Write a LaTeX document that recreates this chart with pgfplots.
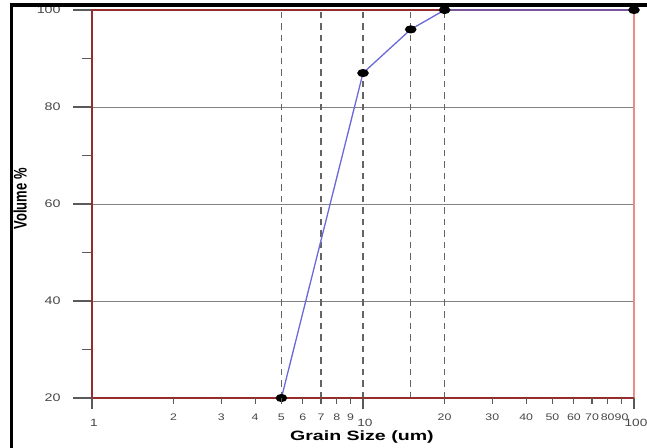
\documentclass[border=0pt]{standalone}
\usepackage{fontspec}
\setmainfont{Liberation Sans}
\usepackage{pgfplots}
\pgfplotsset{compat=1.18}
\definecolor{frameR}{RGB}{150,45,45}
\definecolor{frameL}{RGB}{232,140,140}
\definecolor{gridG}{RGB}{130,130,130}
\definecolor{dashG}{RGB}{100,100,100}
\definecolor{tickG}{RGB}{90,90,90}
\definecolor{labG}{RGB}{70,70,70}
\definecolor{lineB}{RGB}{105,105,215}
\begin{document}
\begin{tikzpicture}[x=1pt,y=1pt]
\useasboundingbox (0,0) rectangle (647,447);
\clip (0,0) rectangle (647,447);
% axis with the y ticks, the frame and the data
\begin{axis}[
  at={(92pt,49pt)}, anchor=south west,
  scale only axis, width=542pt, height=388pt,
  xmode=log, xmin=1, xmax=100, ymin=20, ymax=100,
  axis line style={draw=none},
  tick align=outside, ytick pos=left,
  xtick=\empty, xminorticks=false,
  ytick={20,40,60,80,100}, minor ytick={30,50,70,90},
  major tick length=19pt, minor tick length=10pt,
  tick style={draw=tickG, line width=1.1pt},
  /pgf/number format/assume math mode=true,
  yticklabel style={font=\fontsize{11}{12}\selectfont, text=labG, xscale=1.3, anchor=east, xshift=-6pt},
  ylabel={\scalebox{1}[1.4]{Volume \%}},
  every axis y label/.style={at={(axis description cs:-0.1328,0.513)}, rotate=90, anchor=center, font=\fontsize{13}{15}\selectfont\bfseries},
  clip=false,
]
\draw[gridG, line width=0.9pt] (axis cs:1,40) -- (axis cs:100,40);
\draw[gridG, line width=0.9pt] (axis cs:1,60) -- (axis cs:100,60);
\draw[gridG, line width=0.9pt] (axis cs:1,80) -- (axis cs:100,80);
\foreach \v in {5,7,10,15,20}{
  \edef\tmp{\noexpand\draw[dashG, line width=1.1pt, dash pattern=on 6.5pt off 5pt] (axis cs:\v,20) -- (axis cs:\v,100);}\tmp
}
\draw[frameL, line width=1.3pt] (axis cs:100,20) -- (axis cs:100,100);
\draw[frameR, line width=1.3pt] (axis cs:100,100) -- (axis cs:1,100) -- (axis cs:1,20) -- (axis cs:100,20);
\addplot[lineB, line width=1.3pt, mark=*, mark size=3.4pt, mark options={xscale=1.5, fill=black, draw=black, solid}]
  coordinates {(5,20) (10,87) (15,96) (20,100) (100,100)};
\end{axis}
% overlay axis with the x ticks
\begin{axis}[
  at={(92pt,49pt)}, anchor=south west,
  scale only axis, width=542pt, height=388pt,
  xmode=log, xmin=1, xmax=100, ymin=20, ymax=100,
  axis line style={draw=none},
  tick align=outside, xtick pos=bottom,
  ytick=\empty, xminorticks=false,
  xtick={1,10,100}, xticklabels={1,10,100},
  major tick length=11pt,
  tick style={draw=tickG, line width=1.1pt},
  xticklabel style={font=\fontsize{10.5}{12}\selectfont, text=labG, xscale=1.3, anchor=north, xshift=1.5pt, yshift=-7pt},
  extra x ticks={2,3,4,5,6,7,8,9,20,30,40,50,60,70,80,90},
  extra x tick labels={2,3,4,5,6,7,8,9,20,30,40,50,60,70,80,90},
  extra x tick style={major tick length=6pt, xticklabel style={font=\fontsize{9.5}{11}\selectfont, xshift=-1.5pt, yshift=1pt}},
  xlabel={\scalebox{1.45}[1]{Grain Size (um)}},
  every axis x label/.style={at={(axis description cs:0.498,-0.1018)}, anchor=center, font=\fontsize{13.5}{15}\selectfont\bfseries},
]
\end{axis}
\draw[black, line width=3.6pt] (11.3,-5) -- (11.3,441.8) -- (660,441.8);
\end{tikzpicture}
\end{document}
